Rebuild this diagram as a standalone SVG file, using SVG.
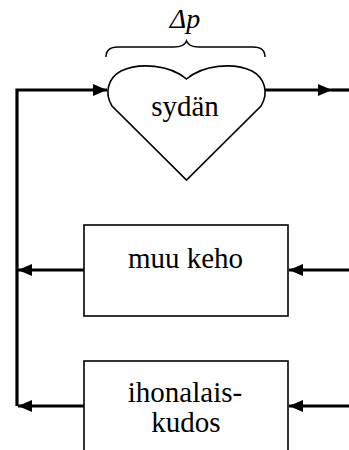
<svg xmlns="http://www.w3.org/2000/svg" width="349" height="450" viewBox="0 0 349 450">
<style>
.conn{fill:none;stroke:#000;stroke-width:3.2}
.shape{fill:#fff;stroke:#000;stroke-width:1.6}
.lbl{font-family:'Liberation Serif','Times New Roman',serif;font-size:29px;fill:#000;text-anchor:middle}
.ital{font-family:'Liberation Serif','Times New Roman',serif;font-size:28px;font-style:italic;fill:#000;text-anchor:middle}
</style>
<defs>
<marker id="ah" markerWidth="14" markerHeight="12" refX="14" refY="6" orient="auto" markerUnits="userSpaceOnUse">
<path d="M0,0 L14,6 L0,12 Z" fill="#000"/>
</marker>
</defs>
<g id="connectors">
<path class="conn" d="M17,406 L17,90 L107,90" marker-end="url(#ah)"/>
<path class="conn" d="M264,90 L332,90" marker-end="url(#ah)"/>
<path class="conn" d="M332,90 L349,90"/>
<path class="conn" d="M84,270 L18,270" marker-end="url(#ah)"/>
<path class="conn" d="M349,270 L289,270" marker-end="url(#ah)"/>
<path class="conn" d="M84,406 L18,406" marker-end="url(#ah)"/>
<path class="conn" d="M349,406 L289,406" marker-end="url(#ah)"/>
</g>
<g id="dp">
<path d="M106,57 C106,50 110,47 118,47 L174,47 C181,47 185,45 186.5,41 C188,45 192,47 199,47 L253,47 C261,47 265,50 265,57" fill="none" stroke="#000" stroke-width="1.5"/>
<text class="ital" x="185" y="28">Δp</text>
</g>
<g id="sydan">
<path class="shape" d="M186.5,79 C170,65 140,62 121,71 C108,78 104,93 112,106 L186.5,180 L261,106 C269,93 265,78 252,71 C233,62 203,65 186.5,79 Z"/>
<text class="lbl" x="185" y="116">sydän</text>
</g>
<g id="muukeho">
<rect class="shape" x="84" y="225" width="204" height="91"/>
<text class="lbl" x="185.5" y="268">muu keho</text>
</g>
<g id="ihonalaiskudos">
<rect class="shape" x="84" y="361" width="204" height="100"/>
<text class="lbl" x="185" y="402">ihonalais-</text>
<text class="lbl" x="186" y="432">kudos</text>
</g>
</svg>
